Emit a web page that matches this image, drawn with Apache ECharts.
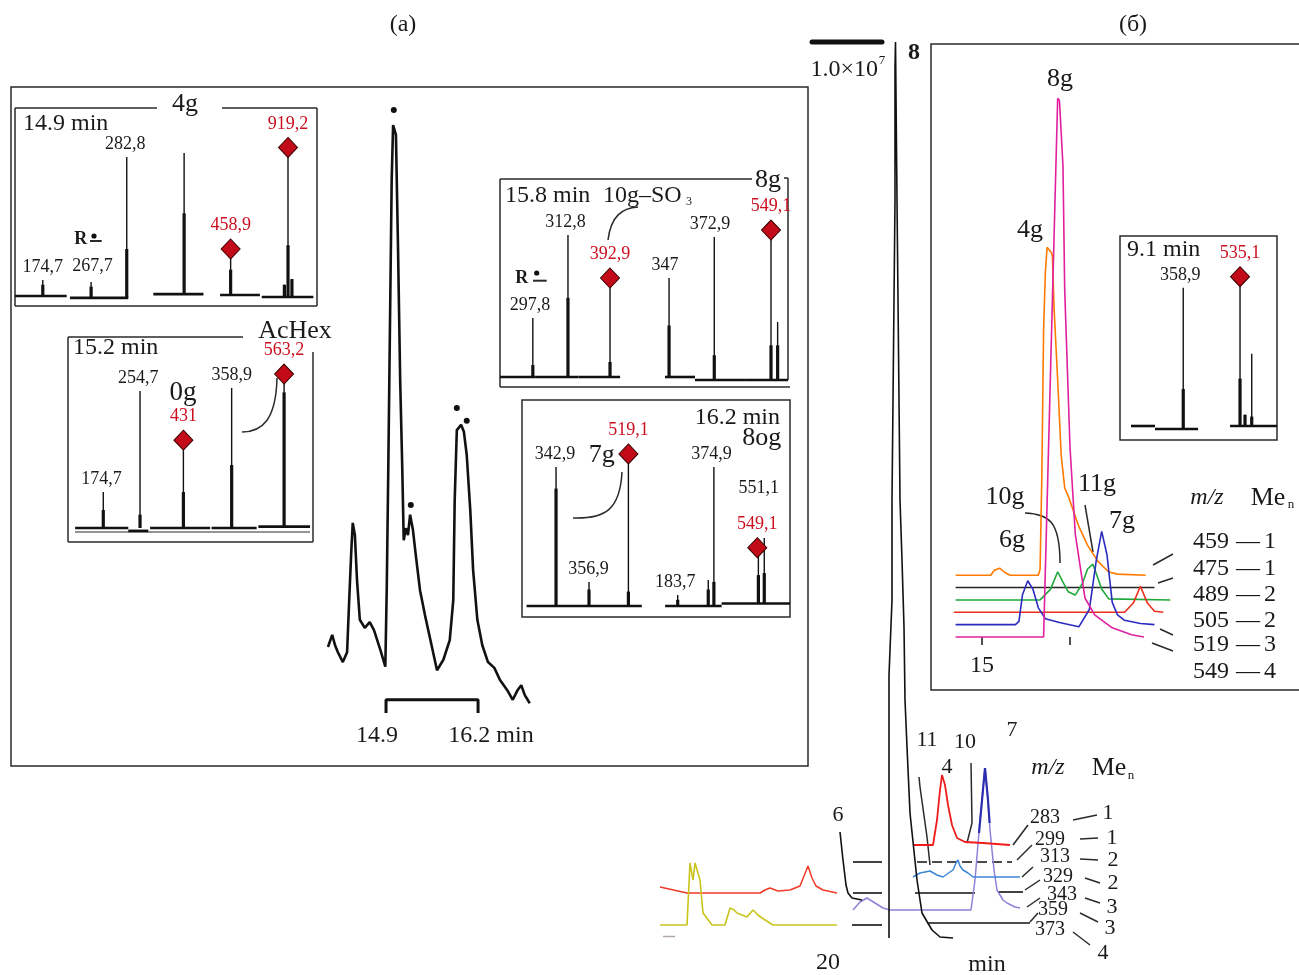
<!DOCTYPE html>
<html><head><meta charset="utf-8">
<script src="https://cdn.jsdelivr.net/npm/echarts@6/dist/echarts.min.js"></script>
<style>html,body{margin:0;padding:0;background:#fff}#c{width:1299px;height:975px}</style>
</head><body><div id="c"></div>
<script>
// ================= DATA =================
// (a) total ion chromatogram, [time min, relative intensity]
const ticTrace = [[14.08,10.0],[14.14,12.1],[14.18,10.3],[14.22,9.1],[14.29,7.4],[14.35,9.1],[14.38,18.1],[14.41,26.7],[14.43,31.4],[14.46,29.3],[14.49,21.6],[14.53,14.7],[14.60,13.3],[14.67,14.3],[14.73,12.9],[14.82,9.5],[14.89,6.6],[14.91,19.8],[14.93,38.8],[14.96,69.8],[14.98,90.5],[15.00,100],[15.04,98.3],[15.07,78.4],[15.10,56.0],[15.13,40.5],[15.15,28.4],[15.18,30.5],[15.21,29.3],[15.24,32.8],[15.28,30.2],[15.32,25.9],[15.38,19.8],[15.45,15.5],[15.52,11.6],[15.62,6.0],[15.71,7.8],[15.80,11.2],[15.85,18.1],[15.87,35.3],[15.90,47.4],[15.96,48.3],[16.00,47.1],[16.04,43.1],[16.09,33.6],[16.13,23.3],[16.19,14.7],[16.26,10.3],[16.34,7.4],[16.43,6.4],[16.51,4.3],[16.61,2.6],[16.69,0.9],[16.76,2.6],[16.81,3.4],[16.86,1.7],[16.93,0.3]];
const ticDots = [[15.01,102.6],[15.25,34.5],[15.90,51.2],[16.04,49.0]];
const ticBar = [[14.9,-1.4],[14.9,0.9],[16.2,0.9],[16.2,-1.4]];

// mass spectra: peaks [position %, height %, thick part %, baseline %]
const ms149Peaks = [[9.2,8.5,6,0],[25.2,7.5,5,-1],[37.0,74,25,-1],[56.0,76,44,1],[71.4,23.4,14,0.5],[89.2,6,6,-0.5],[90.4,79,27,-0.5],[91.7,9,9,-0.5]];
const ms149Base = [[0,17.1,0],[18.2,37.5,-1],[45.8,62.4,1],[67.9,81.1,0.5],[81.7,98.8,-0.5]];
const ms149Labels = [[9.2,8.5,'174,7'],[25.7,9,'267,7'],[36.5,74,'282,8']];
const ms149Ions = [[71.4,25,'458,9'],[90.4,79,'919,2']];

const ms152Peaks = [[14.4,18.8,9.4,0],[29.4,71.7,7,0],[47.1,42.4,18.8,0],[66.8,73.3,33,0],[88.2,80.1,71,0.7]];
const ms152Base = [[2.9,24.6,0],[24.6,32.8,-1.5],[33.5,58,0],[58.6,77,0],[77.7,98.8,0.7]];
const ms152Labels = [[13.7,18.8,'174,7'],[28.7,71.7,'254,7'],[66.8,73.3,'358,9']];
const ms152Ions = [[47.1,46,'431'],[88.2,80.6,'563,2']];

const ms158Peaks = [[11.4,29.8,6,0],[23.6,71.7,40,0],[38.2,49,7.6,0],[58.7,50,26,0],[74.4,70.7,11,-1.5],[94.1,74.2,16,-1.5],[96.4,27.8,16,-1.5]];
const ms158Base = [[0,12.2,0],[12.2,27.2,0],[27.2,41.7,0],[57.3,67.7,0],[67.7,85.1,-1.5],[85.1,100,-1.5]];
const ms158Labels = [[10.4,29.8,'297,8'],[22.7,71.7,'312,8'],[57.3,50,'347'],[72.9,70.7,'372,9']];
const ms158Ions = [[38.2,50,'392,9'],[94.1,74.2,'549,1']];

const ms162Peaks = [[12.7,67.5,57,0],[25,11.7,8,0],[39.7,73.3,7,0],[58.1,5.3,3,0],[69.5,12.6,8,0],[71.6,67.5,11.7,0],[88.2,26.2,15,1.2],[90.4,33,16,1.2]];
const ms162Base = [[1.7,44.7,0],[53.4,74.5,0],[74.5,100,1.2]];
const ms162Labels = [[12.3,67.5,'342,9'],[24.8,11.7,'356,9'],[57.2,5.3,'183,7'],[70.7,67.5,'374,9'],[88.3,51,'551,1']];
const ms162Ions = [[39.7,73.8,'519,1'],[87.8,28.3,'549,1']];

const ms091Peaks = [[39.9,73.5,19.7,-1.6],[76.3,76.8,25.2,0],[79.5,6,6,0],[83.8,38.4,5,0]];
const ms091Base = [[6.4,21.8,0],[21.8,49.4,-1.6],[69.9,100,0]];
const ms091Labels = [[38,73.5,'358,9']];
const ms091Ions = [[76.3,79.4,'535,1']];

// (б) extracted ion chromatograms, [time min, intensity above own baseline]
const eicMz = ['459','475','489','505','519','549'];
const eicMe = ['1','1','2','2','3','4'];
const eic459 = [[14.85,0],[15.05,0],[15.07,0.9],[15.10,1.3],[15.13,0.5],[15.16,0],[15.32,0],[15.33,1.1],[15.34,18.3],[15.345,32.1],[15.35,45.2],[15.36,55.9],[15.37,60.5],[15.395,59.5],[15.40,58.9],[15.41,48.9],[15.43,36.0],[15.45,22.1],[15.47,16.1],[15.49,14.6],[15.55,9.0],[15.60,5.5],[15.66,2.5],[15.72,0.6],[15.77,0.2],[15.93,0]];
const eic475 = [[14.85,0],[15.98,0]];
const eic489 = [[14.85,0],[15.33,0],[15.39,2.0],[15.43,5.2],[15.46,3.3],[15.49,1.5],[15.53,0.9],[15.57,3.0],[15.60,5.7],[15.63,6.6],[15.65,4.8],[15.68,2.0],[15.72,0.2],[16.07,0]];
const eic505 = [[14.84,0],[15.81,0],[15.86,1.7],[15.90,4.8],[15.94,1.7],[15.98,0.2],[16.03,0]];
const eic519 = [[14.85,0],[15.19,0],[15.21,0.6],[15.23,5.5],[15.26,8.1],[15.29,6.5],[15.32,3.1],[15.36,1.1],[15.44,0.4],[15.55,-0.4],[15.61,2.8],[15.65,12.0],[15.68,17.2],[15.71,12.9],[15.74,4.1],[15.77,1.8],[15.81,0.8],[15.90,0.2],[15.98,0]];
const eic549 = [[14.85,0],[15.35,0],[15.43,99.4],[15.44,99.0],[15.46,87.0],[15.47,64.0],[15.50,35.0],[15.53,19.0],[15.585,7.2],[15.64,4.1],[15.74,1.7],[15.85,0.4],[15.92,0]];
const eicTicks = [15, 15.5];
const eicTickLabels = [15];

// bottom-right chromatograms, [time, intensity]
const bigPeak8 = [[23.05,0],[23.05,52.6],[23.2,67.6],[23.2,87.6],[23.3,127.6],[23.35,147.6],[23.35,174.2],[23.375,179.2],[23.45,179.2],[23.45,147.6],[23.55,107.6],[23.6,87.6],[23.7,75.6],[23.8,62.2],[23.85,47.6],[23.95,38.2],[24.1,25],[24.45,11.6],[24.7,5],[25.2,1.6],[25.6,0.2],[26.25,0]];
const redLeft = [[11.6,10.2],[12.95,9],[16.6,9],[16.85,9.6],[17.1,10],[17.5,9.4],[18.1,9.6],[18.6,10.4],[18.8,12.4],[19.0,14.4],[19.2,12],[19.4,10.4],[19.75,9.6],[20.45,9]];
const yellowLeft = [[11.6,2.6],[12.95,2.6],[13.1,15],[13.25,11.6],[13.35,15],[13.6,11.6],[13.75,5],[14.2,2.6],[14.85,2.6],[15.1,6],[15.3,5.6],[15.45,5],[15.95,4.2],[16.25,5.6],[16.5,4.6],[16.7,4],[17.25,2.6],[20.45,2.6]];
const grayDash = [[11.75,0.3],[12.35,0.3]];
const lavender = [[21.25,5.6],[21.6,7.2],[21.95,8],[22.35,7],[22.75,6],[23.1,5.6],[27.15,5.6],[27.35,11.6],[27.6,23.6],[27.85,34],[28.0,27.6],[28.1,21.6],[28.3,13.6],[28.45,9.6],[28.75,7.6],[28.95,7],[29.35,6.2],[29.6,6]];
const peak7Top = [[27.55,21],[27.85,34],[28.0,27.6],[28.08,23]];
const lightBlue = [[24.25,12.2],[24.6,13],[25.1,13.4],[25.45,12.6],[25.75,12.2],[26.1,13.2],[26.25,13.6],[26.4,15],[26.5,15.6],[26.6,14.4],[26.75,13.6],[27.0,13],[27.25,12.2],[28.45,12.2],[29.6,12.2]];
const redRight = [[24.25,18.6],[25.25,18.6],[25.45,23.6],[25.6,29.6],[25.7,32.6],[25.85,30.6],[26.0,26.6],[26.2,22.6],[26.45,20],[26.85,19.2],[27.75,19],[29.1,18.6]];
const black6 = [[20.6,21.2],[20.75,15.6],[20.9,10.6],[21.0,9],[21.2,8],[21.7,7.6]];
const blackSegs = [[21.25,22.7,15.2],[21.25,22.7,9],[24.35,27.35,9],[28.5,29.75,9.2],[21.2,22.7,2.6],[24.95,30.1,3]];
const blackDashed = [[24.45,29.2,15.2]];
const brMz = ['283','299','313','329','343','359','373'];
const brMe = ['1','1','2','2','3','3','4'];

// ================= RENDER =================
const FONT = '"Liberation Serif","Times New Roman",serif';
const INK = '#1a1a1a', RED = '#cc0f1f';
const chart = echarts.init(document.getElementById('c'), null, {width:1299, height:975});

const grids = [
  {left:322.3, top:96, width:212.4, height:626.4},
  {left:15, top:108, width:302, height:197.4},
  {left:68, top:337, width:245, height:200.55},
  {left:500, top:179, width:288, height:207.9},
  {left:522, top:400, width:268, height:216.3},
  {left:1121, top:238, width:156, height:197.4},
  {left:946.8, top:95, width:228.8, height:542},
  {left:628, top:38, width:500, height:900}
].map(g => Object.assign({outerBoundsMode:'none', containLabel:false}, g));
const xr = [[14,17],[0,100],[0,100],[0,100],[0,100],[0,100],[14.8,16.1],[10,35]];
const yr = [[-3,105],[-5,100],[-5,100],[-5,100],[-5,100],[-5,100],[0,100],[0,180]];
const xAxis = xr.map((r,i)=>({type:'value', gridIndex:i, min:r[0], max:r[1], show:false}));
const yAxis = yr.map((r,i)=>({type:'value', gridIndex:i, min:r[0], max:r[1], show:false}));
xAxis[6] = {type:'value', gridIndex:6, min:14.8, max:16.1, show:true,
  axisLine:{show:false}, splitLine:{show:false},
  axisTick:{show:true, customValues:eicTicks, length:8, lineStyle:{color:INK, width:1.5}},
  axisLabel:{show:true, customValues:eicTickLabels, margin:17, fontSize:24, fontFamily:FONT, color:INK}};

function lineS(g, data, color, width, extra){
  return Object.assign({type:'line', xAxisIndex:g, yAxisIndex:g, data, symbol:'none', silent:true, clip:false,
    lineStyle:{color, width, opacity:1}, z:3, animation:false}, extra||{});
}
function spikes(g, peaks){
  return {type:'custom', xAxisIndex:g, yAxisIndex:g, data:peaks, silent:true, clip:false, z:4,
    renderItem:(p, api)=>{
      const x=api.value(0), h=api.value(1), th=api.value(2), b=api.value(3);
      const p0=api.coord([x,b]), p1=api.coord([x,h]), p2=api.coord([x,th]);
      return {type:'group', children:[
        {type:'line', shape:{x1:p0[0],y1:p0[1],x2:p1[0],y2:p1[1]}, style:{stroke:'#111', lineWidth:1.4}},
        {type:'line', shape:{x1:p0[0],y1:p0[1],x2:p2[0],y2:p2[1]}, style:{stroke:'#111', lineWidth:3.2}}
      ]};
    }};
}
function segs(g, list, color, width, dash){
  return {type:'custom', xAxisIndex:g, yAxisIndex:g, data:list, silent:true, clip:false, z:3,
    renderItem:(p, api)=>{
      const a=api.coord([api.value(0), api.value(2)]), b=api.coord([api.value(1), api.value(2)]);
      return {type:'line', shape:{x1:a[0],y1:a[1],x2:b[0],y2:b[1]}, style:{stroke:color, lineWidth:width, lineDash:dash||null}};
    }};
}
function texts(g, arr, color, dist){
  return {type:'scatter', xAxisIndex:g, yAxisIndex:g, data:arr, symbolSize:1, clip:false, silent:true, z:6,
    itemStyle:{color:'rgba(0,0,0,0)', opacity:1},
    label:{show:true, position:'top', distance:dist, formatter:p=>p.data[2], color, opacity:1, fontFamily:FONT, fontSize:18}};
}
function ions(g, arr){
  return {type:'scatter', xAxisIndex:g, yAxisIndex:g, data:arr, symbol:'diamond', symbolSize:[19,20], clip:false, silent:true, z:7,
    itemStyle:{color:'#c20a18', borderColor:'#3a0000', borderWidth:1, opacity:1},
    label:{show:true, position:'top', distance:4, formatter:p=>p.data[2], color:RED, opacity:1, fontFamily:FONT, fontSize:18}};
}

const series = [];
// (a) TIC
series.push(lineS(0, ticTrace, '#111', 2.6));
series.push(lineS(0, ticBar, '#111', 3));
series.push({type:'scatter', xAxisIndex:0, yAxisIndex:0, data:ticDots, symbolSize:6, clip:false, silent:true, itemStyle:{color:'#111', opacity:1}, z:5});
// spectra
[[1,ms149Peaks,ms149Base,ms149Labels,ms149Ions],[2,ms152Peaks,ms152Base,ms152Labels,ms152Ions],
 [3,ms158Peaks,ms158Base,ms158Labels,ms158Ions],[4,ms162Peaks,ms162Base,ms162Labels,ms162Ions],
 [5,ms091Peaks,ms091Base,ms091Labels,ms091Ions]].forEach(([g,pk,bs,lb,io])=>{
  series.push(segs(g, bs, '#111', 2.6));
  series.push(spikes(g, pk));
  series.push(texts(g, lb, INK, 3));
  series.push(ions(g, io));
});
// (б) EIC waterfall
const eicTraces = [eic459, eic475, eic489, eic505, eic519, eic549];
const eicColors = ['#ff7a00','#262626','#1fa83a','#e8301c','#2b2bc0','#e0209e'];
const waterfallStep = 2.28;
eicTraces.forEach((tr,i)=>{
  const off = (eicTraces.length-1-i)*waterfallStep;
  series.push(lineS(6, tr.map(d=>[d[0], d[1]+off]), eicColors[i], 1.6));
});
// bottom-right chromatograms
series.push(lineS(7, redLeft, '#f03a28', 1.5));
series.push(lineS(7, yellowLeft, '#c9c41c', 1.6));
series.push(lineS(7, grayDash, '#b0a8a8', 1.5));
series.push(lineS(7, lavender, '#8c82d8', 1.5));
series.push(lineS(7, peak7Top, '#2d2db0', 2.2));
series.push(lineS(7, lightBlue, '#3d85d6', 1.5));
series.push(lineS(7, redRight, '#f01c1c', 1.8));
series.push(lineS(7, black6, '#111', 1.6));
series.push(segs(7, blackSegs, '#111', 1.6));
series.push(segs(7, blackDashed, '#111', 1.6, [10,5]));
series.push(lineS(7, bigPeak8, '#111', 1.6));

// ---------- decorations (frames, leaders, annotations) ----------
const L = (x1,y1,x2,y2,w)=>({type:'line', shape:{x1,y1,x2,y2}, style:{stroke:'#2a2a2a', lineWidth:w||1.5}, silent:true});
const P = (pts,w)=>({type:'polyline', shape:{points:pts}, style:{stroke:'#2a2a2a', lineWidth:w||1.5, fill:null}, silent:true});
const Bz = (x1,y1,c1x,c1y,c2x,c2y,x2,y2)=>({type:'bezierCurve', shape:{x1,y1,cpx1:c1x,cpy1:c1y,cpx2:c2x,cpy2:c2y,x2,y2}, style:{stroke:'#2a2a2a', lineWidth:1.5, fill:null}, silent:true});
const T = (x,y,text,size,o)=>{o=o||{};return {type:'text', x, y, silent:true, z:10, style:{text, fill:o.color||INK,
  font:(o.style||'normal')+' '+(o.weight||'normal')+' '+size+'px '+FONT, textAlign:o.align||'center', textVerticalAlign:'middle'}};};
const C = (x,y,r)=>({type:'circle', shape:{cx:x,cy:y,r}, style:{fill:'#111'}, silent:true});

const g = [];
// frames
g.push({type:'rect', shape:{x:11,y:87,width:797,height:679}, style:{stroke:'#2a2a2a', lineWidth:1.5, fill:null}, silent:true});
g.push(P([[1299,44],[931,44],[931,690],[1299,690]]));
// inset 14.9
g.push(L(15,108,157,108), L(222,108,317,108), L(317,108,317,306), L(15,306,317,306), L(15,108,15,306));
// inset 15.2
g.push(L(68,337,243,337), L(68,337,68,542), L(68,542,313,542), L(313,352,313,542), L(75,532,310,532,1));
g.push(Bz(242,432, 262,432, 276,420, 277,378));
// inset 15.8
g.push(L(500,179,752,179), L(500,179,500,387), L(500,387,790,387), L(788,178,788,380), L(784,178,788,178));
g.push(Bz(638,207, 622,208, 611,216, 608,240));
// inset 16.2
g.push({type:'rect', shape:{x:522,y:400,width:268,height:217}, style:{stroke:'#2a2a2a', lineWidth:1.5, fill:null}, silent:true});
g.push(Bz(573,518, 605,519, 620,510, 622,472));
// inset 9.1
g.push({type:'rect', shape:{x:1120,y:236,width:157,height:204}, style:{stroke:'#2a2a2a', lineWidth:1.5, fill:null}, silent:true});
// (б) leaders
g.push(Bz(1025,513, 1048,514, 1060,520, 1060,563), L(1085,505,1093,552));
g.push(L(1153,565,1173,554), L(1158,583,1173,578), L(1160,629,1173,635), L(1152,643,1173,651));
// bottom-right leaders
g.push(P([[919,777],[920,787],[927,837],[930,865]]), P([[971,763],[972,823],[967,843]]));
g.push(L(1013,845,1028,825), L(1017,860,1032,845), L(1022,877,1033,867), L(1025,890,1040,880), L(1027,907,1040,898), L(1030,922,1038,913));
g.push(L(1073,820,1097,815), L(1080,839,1098,838), L(1080,859,1098,860), L(1085,878,1100,883), L(1085,898,1100,903), L(1080,913,1098,922), L(1073,932,1090,945));
// scale bar 1.0x10^7
g.push({type:'line', shape:{x1:812,y1:42,x2:882,y2:42}, style:{stroke:'#111', lineWidth:5, lineCap:'round'}, silent:true});

// texts
g.push(T(403,25,'(a)',24), T(1133,25,'(б)',24));
g.push(T(185,104,'4g',26), T(23,124,'14.9 min',24,{align:'left'}));
g.push(T(80.8,239,'R',18,{weight:'bold'}), C(94,236,2.6), L(90,241,101.7,241,2));
g.push(T(73,348,'15.2 min',24,{align:'left'}), T(295,331,'AcHex',26), T(183,393,'0g',27));
g.push(T(505,196,'15.8 min',24,{align:'left'}), T(603,196,'10g–SO',24,{align:'left'}), T(689,202,'3',12), T(768,180,'8g',26));
g.push(T(521.7,278.3,'R',18,{weight:'bold'}), C(536.7,273,2.6), L(533,280.7,546.7,280.7,2));
g.push(T(780,418,'16.2 min',24,{align:'right'}), T(761.7,438,'8og',26), T(601.7,455,'7g',26));
g.push(T(377,736,'14.9',24), T(491,736,'16.2 min',24));
g.push(T(878,70,'1.0×10',24,{align:'right'}), T(882,61,'7',13), T(914,53,'8',24,{weight:'bold'}));
// (б) texts
g.push(T(1060,79,'8g',26), T(1030,230,'4g',26), T(1005,497,'10g',26), T(1012,540,'6g',26), T(1097,484,'11g',26), T(1122,521,'7g',26));
g.push(T(1127,250,'9.1 min',24,{align:'left'}));
g.push(T(1207,498,'m/z',24,{style:'italic'}), T(1268,498,'Me',26), T(1291,505,'n',13));
const rowY = [542,569,595,620.5,645,672];
eicMz.forEach((m,i)=>{ g.push(T(1211,rowY[i],m,24), T(1248,rowY[i],'—',24), T(1270,rowY[i],eicMe[i],24)); });
// bottom-right texts
g.push(T(838,815,'6',22), T(927,740,'11',22), T(965,742,'10',22), T(947,767,'4',22), T(1012,730,'7',22));
g.push(T(1048,768,'m/z',24,{style:'italic'}), T(1109,768,'Me',26), T(1131,776,'n',13));
const brY = [818,840,857,877,895,910,930];
const brX = [1045,1050,1055,1058,1062,1053,1050];
const meY = [813,838,860,883,907,928,953];
const meX = [1108,1112,1113,1113,1112,1110,1103];
brMz.forEach((m,i)=>{ g.push(T(brX[i],brY[i],m,20), T(meX[i],meY[i],brMe[i],22)); });
g.push(T(828,963,'20',24), T(987,965,'min',24));

chart.setOption({animation:false, backgroundColor:'#ffffff', grid:grids, xAxis, yAxis, series, graphic:{elements:g}});
</script></body></html>
